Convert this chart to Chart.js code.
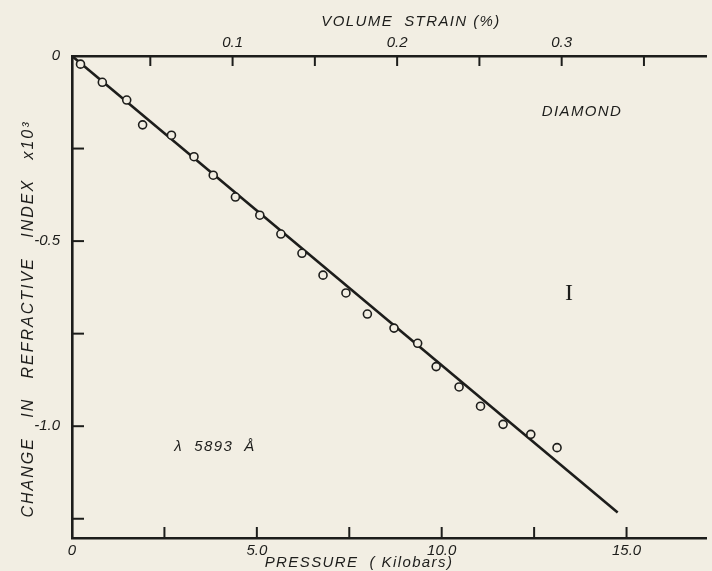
<!DOCTYPE html>
<html>
<head>
<meta charset="utf-8">
<script src="https://cdn.jsdelivr.net/npm/chart.js@4.4.1/dist/chart.umd.min.js"></script>
<style>
  html, body { margin: 0; padding: 0; background: #f2eee3; }
  canvas { display: block; }
</style>
</head>
<body>
<canvas id="myChart" width="712" height="571"></canvas>
<script>
// measured points: pressure (kbar) vs change in refractive index (x10^3)
const pressure = [0.23, 0.82, 1.48, 1.91, 2.69, 3.30, 3.82, 4.42, 5.08, 5.65, 6.22,
  6.79, 7.41, 7.99, 8.71, 9.35, 9.85, 10.47, 11.05, 11.66, 12.41, 13.12];
const indexChange = [-0.022, -0.071, -0.119, -0.186, -0.214, -0.272, -0.322, -0.381,
  -0.430, -0.481, -0.533, -0.592, -0.640, -0.697, -0.735, -0.776, -0.839, -0.894,
  -0.946, -0.995, -1.022, -1.058];

// straight line drawn through the points
const fitPressure = [0, 14.76];
const fitIndex = [0, -1.233];

const pressureTicks = [0, 2.5, 5, 7.5, 10, 12.5, 15];
const pressureLabels = ["0", "", "5.0", "", "10.0", "", "15.0"];
const strainTicks = [0.05, 0.1, 0.15, 0.2, 0.25, 0.3, 0.35];
const strainLabels = ["", "0.1", "", "0.2", "", "0.3", ""];
const indexTicks = [0, -0.25, -0.5, -0.75, -1.0, -1.25];
const indexLabels = ["0", "", "-0.5", "", "-1.0", ""];

const ink = "#1d1d1b";
const paper = "#f2eee3";
const font = "'Liberation Sans', Arial, sans-serif";

const points = pressure.map((p, i) => ({ x: p, y: indexChange[i] }));
const fit = fitPressure.map((p, i) => ({ x: p, y: fitIndex[i] }));

const setTicks = (list) => (scale) => {
  scale.ticks = list.map((v) => ({ value: v }));
};

// paper colour behind everything
const paperPlugin = {
  id: "paper",
  beforeDraw(chart) {
    const ctx = chart.ctx;
    ctx.save();
    ctx.fillStyle = paper;
    ctx.fillRect(0, 0, chart.width, chart.height);
    ctx.restore();
  },
};

// tick marks point into the plot, plus the hand lettered titles
const extrasPlugin = {
  id: "extras",
  afterDraw(chart) {
    const ctx = chart.ctx;
    const area = chart.chartArea;
    const x = chart.scales.x;
    const x2 = chart.scales.x2;
    const y = chart.scales.y;
    ctx.save();
    ctx.strokeStyle = ink;
    ctx.lineWidth = 2;
    for (let v of pressureTicks) {
      if (v == 0) continue;
      const px = x.getPixelForValue(v);
      ctx.beginPath();
      ctx.moveTo(px, area.bottom);
      ctx.lineTo(px, area.bottom - 11);
      ctx.stroke();
    }
    for (let v of strainTicks) {
      const px = x2.getPixelForValue(v);
      ctx.beginPath();
      ctx.moveTo(px, area.top);
      ctx.lineTo(px, area.top + 10);
      ctx.stroke();
    }
    for (let v of indexTicks) {
      if (v == 0) continue;
      const py = y.getPixelForValue(v);
      ctx.beginPath();
      ctx.moveTo(area.left, py);
      ctx.lineTo(area.left + 12, py);
      ctx.stroke();
    }

    ctx.fillStyle = ink;
    ctx.textAlign = "center";
    ctx.textBaseline = "middle";
    ctx.font = "italic 15px " + font;
    ctx.letterSpacing = "1.4px";
    ctx.fillText("VOLUME  STRAIN (%)", 411, 22);
    ctx.fillText("PRESSURE  ( Kilobars)", 359, 563);
    ctx.fillText("DIAMOND", 582, 112);
    ctx.fillText("λ  5893  Å", 215, 447);

    ctx.save();
    ctx.translate(29, 319);
    ctx.rotate(-Math.PI / 2);
    ctx.font = "italic 16px " + font;
    ctx.letterSpacing = "2px";
    ctx.fillText("CHANGE   IN   REFRACTIVE   INDEX   x10³", 0, 0);
    ctx.restore();

    ctx.letterSpacing = "0px";
    ctx.font = "24px 'Liberation Serif', serif";
    ctx.fillText("I", 569, 294);
    ctx.restore();
  },
};

new Chart(document.getElementById("myChart").getContext("2d"), {
  type: "scatter",
  data: {
    datasets: [
      {
        label: "measured",
        data: points,
        order: 0,
        pointStyle: "circle",
        pointRadius: 4,
        pointBorderWidth: 1.6,
        pointBorderColor: ink,
        pointBackgroundColor: paper,
        clip: false,
      },
      {
        type: "line",
        label: "fit",
        data: fit,
        order: 1,
        borderColor: ink,
        borderWidth: 2.6,
        pointRadius: 0,
        fill: false,
        clip: false,
      },
    ],
  },
  options: {
    responsive: false,
    animation: false,
    devicePixelRatio: 1,
    layout: { padding: 0 },
    plugins: {
      legend: { display: false },
      tooltip: { enabled: false },
    },
    scales: {
      x: {
        type: "linear",
        position: "bottom",
        min: 0,
        max: 17.16,
        afterBuildTicks: setTicks(pressureTicks),
        afterFit: (scale) => { scale.height = 33; },
        grid: { display: false, drawTicks: false },
        border: { display: true, color: ink, width: 2.6 },
        ticks: {
          padding: 4,
          maxRotation: 0,
          autoSkip: false,
          color: ink,
          font: { family: font, size: 15, style: "italic" },
          callback: (value, i) => pressureLabels[i],
        },
      },
      x2: {
        type: "linear",
        position: "top",
        min: (72 - 68) / 1660,
        max: (712 - 68) / 1660,
        afterBuildTicks: setTicks(strainTicks),
        afterFit: (scale) => { scale.height = 56; },
        grid: { display: false, drawTicks: false },
        border: { display: true, color: ink, width: 2.6 },
        ticks: {
          padding: 4,
          maxRotation: 0,
          autoSkip: false,
          color: ink,
          font: { family: font, size: 15, style: "italic" },
          callback: (value, i) => strainLabels[i],
        },
      },
      y: {
        type: "linear",
        position: "left",
        min: -1.302,
        max: 0,
        afterBuildTicks: setTicks(indexTicks),
        afterFit: (scale) => { scale.width = 72; },
        grid: { display: false, drawTicks: false },
        border: { display: true, color: ink, width: 2.6 },
        ticks: {
          padding: 12,
          autoSkip: false,
          color: ink,
          font: { family: font, size: 15, style: "italic" },
          callback: (value, i) => indexLabels[i],
        },
      },
    },
  },
  plugins: [paperPlugin, extrasPlugin],
});
</script>
</body>
</html>
